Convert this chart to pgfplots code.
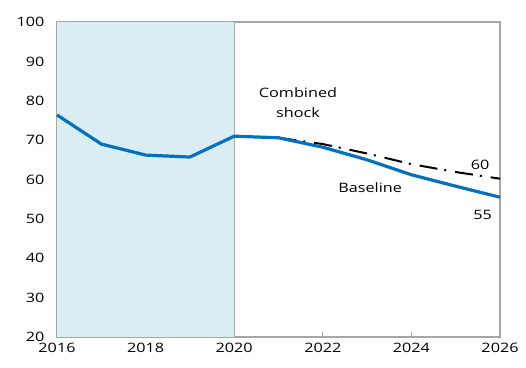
\documentclass[border=0pt]{standalone}
\usepackage{fontspec}
\setmainfont[FakeStretch=1.25]{Open Sans}
\usepackage{pgfplots}
\pgfplotsset{compat=1.18}
\definecolor{ln}{HTML}{0070C0}
\definecolor{shade}{HTML}{DAEDF3}
\definecolor{ax}{HTML}{A6A6A6}
\begin{document}
\fontsize{13}{15}\selectfont
\begin{tikzpicture}
\begin{axis}[
  scale only axis, width=443bp, height=315bp,
  xmin=2016, xmax=2026, ymin=20, ymax=100,
  xtick={2016,2018,...,2026}, ytick={20,30,...,100},
  x tick label style={/pgf/number format/1000 sep={}},
  /pgf/number format/assume math mode=true,
  tick label style={font=\fontsize{13}{15}\selectfont, text=black},
  axis line style={ax, line width=1.3bp},
  tick style={ax, line width=1.3bp},
  major tick length=5bp, tick align=inside,
  xtick pos=bottom, ytick pos=left,
  yticklabel style={xshift=-8bp},
  xticklabel style={yshift=-2bp},
  clip=false,
]
\addplot[draw=none, fill=shade] coordinates {(2016,20) (2016,100) (2020,100) (2020,20)} -- cycle;
\addplot[ax, line width=1.3bp] coordinates {(2020,20) (2020,100)};
\addplot[black, line width=2bp, dash pattern=on 18bp off 7bp on 2bp off 9bp] coordinates {
(2021,70.6) (2022,69.0) (2023,66.6) (2024,63.9) (2025,61.9) (2026,60.2)};
\addplot[ln, line width=3.2bp] coordinates {
(2016,76.4) (2017,69.0) (2018,66.2) (2019,65.7) (2020,71.0) (2021,70.6) (2022,68.2) (2023,65.0) (2024,61.2) (2025,58.3) (2026,55.5)};
\node[align=center, font=\fontsize{13}{20}\selectfont] at (axis cs:2021.44,79.6) {Combined\\shock};
\node[font=\fontsize{13}{15}\selectfont] at (axis cs:2023.07,57.9) {Baseline};
\node[font=\fontsize{13}{15}\selectfont] at (axis cs:2025.55,63.7) {60};
\node[font=\fontsize{13}{15}\selectfont] at (axis cs:2025.61,51.0) {55};
\end{axis}
\pgfresetboundingbox
\path[use as bounding box] (-57bp,-31bp) rectangle (469bp,337bp);
\end{tikzpicture}
\end{document}
